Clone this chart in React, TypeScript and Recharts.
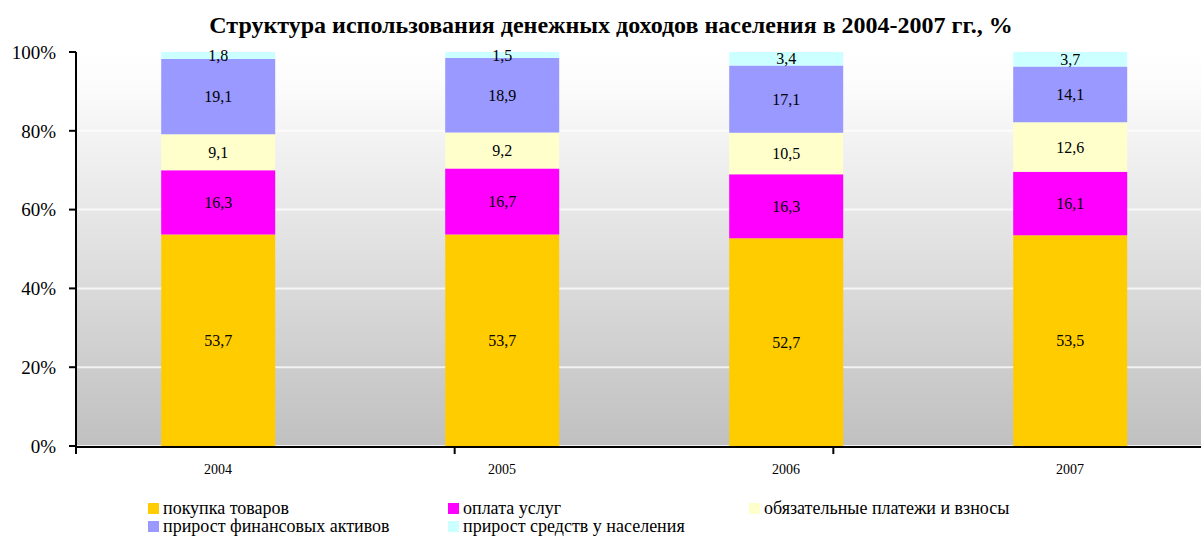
import { BarChart, Bar, XAxis, YAxis, CartesianGrid, LabelList } from 'recharts'

const years = ['2004', '2005', '2006', '2007']
const goods = [53.7, 53.7, 52.7, 53.5]
const services = [16.3, 16.7, 16.3, 16.1]
const payments = [9.1, 9.2, 10.5, 12.6]
const finAssets = [19.1, 18.9, 17.1, 14.1]
const cash = [1.8, 1.5, 3.4, 3.7]
const yTicks = [0, 20, 40, 60, 80, 100]
const edgeTicks = [0, 1, 2, 3, 4]

const SERIES = [
  { key: 'goods', name: 'покупка товаров', color: '#FFCC00', values: goods },
  { key: 'services', name: 'оплата услуг', color: '#FF00FF', values: services },
  { key: 'payments', name: 'обязательные платежи и взносы', color: '#FFFFCC', values: payments },
  { key: 'finAssets', name: 'прирост финансовых активов', color: '#9999FF', values: finAssets },
  { key: 'cash', name: 'прирост средств у населения', color: '#CCFFFF', values: cash },
]

const FONT = '"Liberation Serif", "Times New Roman", serif'

const data = years.map((year, i) => {
  const row: Record<string, string | number> = { year }
  SERIES.forEach(s => { row[s.key] = s.values[i] })
  return row
})

const fmt = (v: any) => String(v).replace('.', ',')

export default function App() {
  return (
    <div style={{
      position: 'absolute', left: 0, top: 0, width: 1201, height: 536,
      overflow: 'hidden', background: '#fff', fontFamily: FONT,
    }}>
      <div style={{
        position: 'absolute', left: 0, top: 12, width: 1222, textAlign: 'center',
        fontSize: 24, fontWeight: 700, lineHeight: '26px', color: '#000',
      }}>
        Структура использования денежных доходов населения в 2004-2007 гг., %
      </div>

      <BarChart
        width={1230}
        height={536}
        data={data}
        margin={{ top: 52, right: 18, bottom: 60, left: 0 }}
        barCategoryGap="30%"
      >
        <defs>
          <linearGradient id="plotBg" x1="0" y1="0" x2="0" y2="1">
            <stop offset="0" stopColor="#ffffff" />
            <stop offset="0.08" stopColor="#fcfcfc" />
            <stop offset="1" stopColor="#c0c0c0" />
          </linearGradient>
        </defs>
        <CartesianGrid
          vertical={false}
          fill="url(#plotBg)"
          fillOpacity={1}
          stroke="#ffffff"
          strokeOpacity={0.75}
          strokeWidth={2}
        />
        {/* category labels: thin axis, labels pushed down by tickMargin */}
        <XAxis
          dataKey="year"
          height={1}
          interval={0}
          axisLine={false}
          tickLine={false}
          tickMargin={12}
          tick={{ fontSize: 14, fill: '#000', fontFamily: FONT }}
        />
        {/* axis line with ticks between categories */}
        <XAxis
          xAxisId="edges"
          type="number"
          domain={[0, 4]}
          ticks={edgeTicks}
          interval={0}
          height={29}
          tickSize={7}
          tickFormatter={() => ''}
          axisLine={{ stroke: '#000', strokeWidth: 2 }}
          tickLine={{ stroke: '#000', strokeWidth: 2 }}
        />
        <YAxis
          domain={[0, 100]}
          ticks={yTicks}
          width={76}
          tickSize={7}
          tickMargin={13}
          tickFormatter={(v: number) => `${v}%`}
          axisLine={{ stroke: '#000', strokeWidth: 2 }}
          tickLine={{ stroke: '#000', strokeWidth: 2 }}
          tick={{ fontSize: 19, fill: '#000', fontFamily: FONT }}
        />
        {SERIES.map(s => (
          <Bar key={s.key} dataKey={s.key} name={s.name} stackId="a" fill={s.color} isAnimationActive={false}>
            <LabelList
              dataKey={s.key}
              position="center"
              formatter={fmt}
              fill="#000"
              fontSize={16}
              fontFamily={FONT}
            />
          </Bar>
        ))}
      </BarChart>

      <div style={{
        position: 'absolute', left: 148, top: 499, display: 'grid',
        gridTemplateColumns: '300px 301px 400px', rowGap: 0,
        fontSize: 18, lineHeight: '18px', color: '#000',
      }}>
        {SERIES.map(s => (
          <div key={s.key} style={{ display: 'flex', alignItems: 'center', whiteSpace: 'nowrap' }}>
            <span style={{ display: 'inline-block', width: 11, height: 11, background: s.color, marginRight: 4 }} />
            {s.name}
          </div>
        ))}
      </div>
    </div>
  )
}
